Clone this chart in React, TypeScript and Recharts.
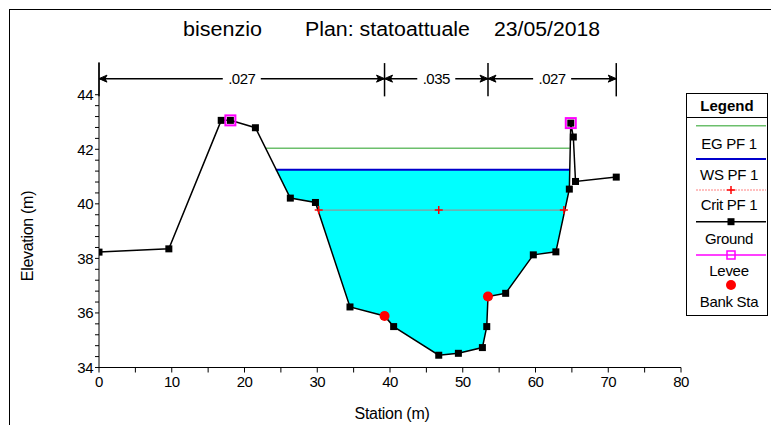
import React from 'react';
import { ComposedChart, Line, Area, XAxis, YAxis, ReferenceLine, Legend } from 'recharts';

// Ground profile of the cross section (station in m, elevation in m)
const groundStations = [0, 9.6, 16.8, 18.06, 21.5, 26.3, 29.75, 34.5, 39.25, 40.5, 46.7, 49.4, 52.7, 53.3, 53.47, 55.9, 59.7, 62.8, 64.65, 64.85, 65.2, 65.5, 71.1];
const groundElevations = [38.23, 38.35, 43.06, 43.06, 42.79, 40.21, 40.05, 36.22, 35.89, 35.5, 34.45, 34.52, 34.73, 35.5, 36.6, 36.72, 38.13, 38.24, 40.54, 42.96, 42.45, 40.82, 40.98];

// Levee crests
const leveeStations = [18.06, 64.85];
const leveeElevations = [43.06, 42.96];

// Main channel bank stations
const bankStations = [39.25, 53.47];
const bankElevations = [35.89, 36.6];

// Energy grade, water surface and critical depth for profile PF 1
const egStations = [22.9, 64.7];
const egElevation = 42.04;
const wsStations = [24.3, 64.7];
const wsElevation = 41.25;
const critStations = [30.2, 46.7, 63.9];
const critElevation = 39.77;

// Manning's n zones along the section
const roughnessBreaks = [0, 39.25, 53.47, 71.1];
const roughnessValues = ['.027', '.035', '.027'];
const roughnessArrowElevation = 44.59;
const roughnessMarkerRange = [43.94, 45.16];

// Axes
const stationTicks = [0, 5, 10, 15, 20, 25, 30, 35, 40, 45, 50, 55, 60, 65, 70, 75, 80];
const elevationLabels = [34, 36, 38, 40, 42, 44];
const elevationDomain = [34, 45.2];
const elevationMinorStep = 0.4;

const legendNames = ['EG PF 1', 'WS PF 1', 'Crit PF 1', 'Ground', 'Levee', 'Bank Sta'];

const titleParts = ['bisenzio', 'Plan: statoattuale', '23/05/2018'];

// ---------- derived tables ----------
const groundRows = groundStations.map((s, i) => ({ station: s, elev: groundElevations[i] }));
const leveeRows = leveeStations.map((s, i) => ({ station: s, elev: leveeElevations[i] }));
const bankRows = bankStations.map((s, i) => ({ station: s, elev: bankElevations[i] }));
const egRows = egStations.map((s) => ({ station: s, elev: egElevation }));
const wsRows = wsStations.map((s) => ({ station: s, elev: wsElevation }));
const critRows = critStations.map((s) => ({ station: s, elev: critElevation }));

// wetted area: between the ground and the water surface
const waterRows = [
  { station: wsStations[0], wet: [wsElevation, wsElevation] },
  ...groundRows
    .filter((r) => r.station > wsStations[0] && r.station < wsStations[1])
    .map((r) => ({ station: r.station, wet: [r.elev, wsElevation] })),
  { station: wsStations[1], wet: [wsElevation, wsElevation] },
];

const elevationTicks: number[] = [];
for (let k = 0; elevationDomain[0] + k * elevationMinorStep <= elevationLabels[elevationLabels.length - 1] + 1e-6; k++) {
  elevationTicks.push(Math.round((elevationDomain[0] + k * elevationMinorStep) * 10) / 10);
}

const FONT = "'Liberation Sans', Arial, sans-serif";

const SquareDot = (props: any) => {
  const { cx, cy, index } = props;
  if (cx == null || cy == null) return <g key={`g-${index}`} />;
  return <rect key={`g-${index}`} x={cx - 3.5} y={cy - 3.5} width={7} height={7} fill="#000" />;
};

const LeveeDot = (props: any) => {
  const { cx, cy, index } = props;
  if (cx == null || cy == null) return <g key={`l-${index}`} />;
  return <rect key={`l-${index}`} x={cx - 5} y={cy - 5} width={10} height={10} fill="none" stroke="#ff00ff" strokeWidth={2} />;
};

const BankDot = (props: any) => {
  const { cx, cy, index } = props;
  if (cx == null || cy == null) return <g key={`b-${index}`} />;
  return <circle key={`b-${index}`} cx={cx} cy={cy} r={5} fill="#ff0000" />;
};

const CritDot = (props: any) => {
  const { cx, cy, index } = props;
  if (cx == null || cy == null) return <g key={`c-${index}`} />;
  return (
    <g key={`c-${index}`} stroke="#ff0000" strokeWidth={1.5}>
      <line x1={cx - 4} x2={cx + 4} y1={cy} y2={cy} />
      <line x1={cx} x2={cx} y1={cy - 4} y2={cy + 4} />
    </g>
  );
};

// double-headed arrow with the n value written in the middle
const roughnessArrow = (text: string) => (props: any) => {
  const { x1, y1, x2 } = props;
  const y = y1;
  const mid = (x1 + x2) / 2;
  const h = 8;
  const w = 3.5;
  return (
    <g>
      <line x1={x1} x2={x2} y1={y} y2={y} stroke="#000" strokeWidth={1.5} />
      <path d={`M${x1},${y} L${x1 + h},${y - w} L${x1 + h - 2},${y} L${x1 + h},${y + w} Z`} fill="#000" stroke="#000" />
      <path d={`M${x2},${y} L${x2 - h},${y - w} L${x2 - h + 2},${y} L${x2 - h},${y + w} Z`} fill="#000" stroke="#000" />
      <rect x={mid - 19} y={y - 8} width={38} height={16} fill="#fff" />
      <text x={mid} y={y + 5} textAnchor="middle" fontSize={15} letterSpacing={-0.5} fill="#000">{text}</text>
    </g>
  );
};

const LegendBox = () => {
  const sampleY = [32.7, 66, 97, 128.7, 162, 192];
  const textY = [55.5, 86.5, 116.5, 151, 182.5, 214];
  return (
    <svg width={82} height={223} style={{ display: 'block', fontFamily: FONT }}>
      <rect x={0.5} y={0.5} width={81} height={222} fill="#fff" stroke="#000" />
      <text x={41} y={18} textAnchor="middle" fontWeight="bold" fontSize={15} fill="#000">Legend</text>
      <line x1={0} x2={82} y1={24.5} y2={24.5} stroke="#000" />
      <line x1={10} x2={80} y1={sampleY[0]} y2={sampleY[0]} stroke="#6cbf6c" strokeWidth={1.5} />
      <line x1={10} x2={80} y1={sampleY[1]} y2={sampleY[1]} stroke="#0000cc" strokeWidth={2} />
      <line x1={10} x2={80} y1={sampleY[2]} y2={sampleY[2]} stroke="#ff8080" strokeWidth={1} strokeDasharray="2 1" />
      <CritDot cx={45} cy={sampleY[2]} index={0} />
      <line x1={10} x2={80} y1={sampleY[3]} y2={sampleY[3]} stroke="#000" strokeWidth={1.5} />
      <SquareDot cx={45} cy={sampleY[3]} index={0} />
      <line x1={10} x2={80} y1={sampleY[4]} y2={sampleY[4]} stroke="#ff00ff" strokeWidth={1.5} />
      <rect x={41} y={sampleY[4] - 4} width={8} height={8} fill="none" stroke="#ff00ff" strokeWidth={1.5} />
      <BankDot cx={45} cy={sampleY[5]} index={0} />
      {legendNames.map((n, i) => (
        <text key={n} x={43} y={textY[i]} textAnchor="middle" fontSize={15} letterSpacing={-0.3} fill="#000">{n}</text>
      ))}
    </svg>
  );
};

export default function App() {
  return (
    <div
      style={{
        position: 'absolute',
        left: 9,
        top: 9,
        width: 762,
        height: 416,
        boxSizing: 'border-box',
        borderLeft: '1px solid #000',
        borderTop: '1px solid #000',
        fontFamily: FONT,
        background: '#fff',
      }}
    >
      <ComposedChart width={761} height={415} margin={{ top: 52, right: 90, bottom: 27.5, left: 29 }}>
        <XAxis
          type="number"
          dataKey="station"
          domain={[0, 80]}
          ticks={stationTicks}
          interval={0}
          allowDataOverflow
          tickFormatter={(v: number) => (v % 10 === 0 ? String(v) : '')}
          axisLine={{ stroke: '#000' }}
          tickLine={{ stroke: '#000' }}
          tick={{ fill: '#000', fontSize: 15, letterSpacing: -0.5 }}
          tickSize={5}
          tickMargin={4}
          height={30}
          label={{
            content: () => (
              <text x={382} y={403} textAnchor="middle" dominantBaseline="central" fontSize={16} letterSpacing={-0.3} fill="#000">
                Station (m)
              </text>
            ),
          }}
        />
        <YAxis
          type="number"
          domain={elevationDomain}
          ticks={elevationTicks}
          interval={0}
          allowDataOverflow
          tickFormatter={(v: number) => (elevationLabels.includes(v) ? String(v) : '')}
          axisLine={{ stroke: '#000' }}
          tickLine={{ stroke: '#000' }}
          tick={{ fill: '#000', fontSize: 15, letterSpacing: -0.5 }}
          tickSize={4}
          tickMargin={2}
          width={60}
          label={{
            content: () => (
              <text
                x={17}
                y={226}
                transform="rotate(-90 17 226)"
                textAnchor="middle"
                dominantBaseline="central"
                fontSize={16}
                letterSpacing={-0.3}
                fill="#000"
              >
                Elevation (m)
              </text>
            ),
          }}
        />

        <Area
          data={waterRows}
          dataKey="wet"
          type="linear"
          stroke="none"
          fill="#00ffff"
          fillOpacity={1}
          isAnimationActive={false}
          activeDot={false}
          legendType="none"
        />
        <Line data={egRows} dataKey="elev" type="linear" stroke="#6cbf6c" strokeWidth={1.5} dot={false} activeDot={false} isAnimationActive={false} legendType="none" />
        <Line data={wsRows} dataKey="elev" type="linear" stroke="#0000cc" strokeWidth={2} dot={false} activeDot={false} isAnimationActive={false} legendType="none" />
        <Line data={critRows} dataKey="elev" type="linear" stroke="#8c9a9a" strokeWidth={1.2} dot={CritDot} activeDot={false} isAnimationActive={false} legendType="none" />
        <Line data={groundRows} dataKey="elev" type="linear" stroke="#000" strokeWidth={1.5} dot={SquareDot} activeDot={false} isAnimationActive={false} legendType="none" />
        <Line data={leveeRows} dataKey="elev" type="linear" stroke="none" dot={LeveeDot} activeDot={false} isAnimationActive={false} legendType="none" />
        <Line data={bankRows} dataKey="elev" type="linear" stroke="none" dot={BankDot} activeDot={false} isAnimationActive={false} legendType="none" />

        {roughnessBreaks.map((b) => (
          <ReferenceLine
            key={`rb-${b}`}
            segment={[
              { x: b, y: roughnessMarkerRange[0] },
              { x: b, y: roughnessMarkerRange[1] },
            ]}
            stroke="#000"
            strokeWidth={1.5}
          />
        ))}
        {roughnessValues.map((v, i) => (
          <ReferenceLine
            key={`rz-${i}`}
            segment={[
              { x: roughnessBreaks[i], y: roughnessArrowElevation },
              { x: roughnessBreaks[i + 1], y: roughnessArrowElevation },
            ]}
            shape={roughnessArrow(v)}
          />
        ))}

        <text x={173} y={25.5} fontSize={20} fill="#000" textLength={79} lengthAdjust="spacingAndGlyphs">{titleParts[0]}</text>
        <text x={295} y={25.5} fontSize={20} fill="#000" textLength={165} lengthAdjust="spacingAndGlyphs">{titleParts[1]}</text>
        <text x={484} y={25.5} fontSize={20} fill="#000" textLength={106} lengthAdjust="spacingAndGlyphs">{titleParts[2]}</text>

        <Legend
          layout="horizontal"
          align="center"
          verticalAlign="middle"
          width={82}
          height={223}
          content={() => <LegendBox />}
          wrapperStyle={{ left: 676, top: 83, width: 82, height: 223 }}
        />
      </ComposedChart>
    </div>
  );
}
